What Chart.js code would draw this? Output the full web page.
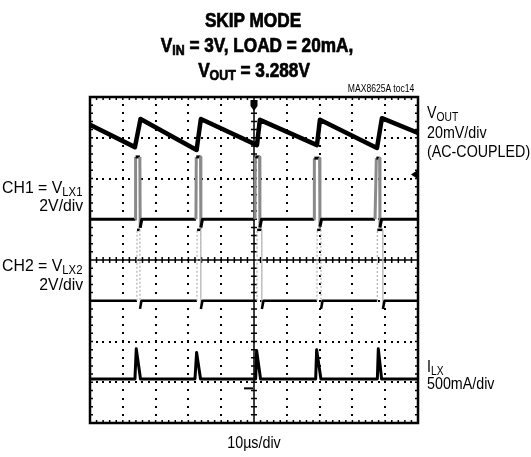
<!DOCTYPE html>
<html>
<head>
<meta charset="utf-8">
<script src="https://cdn.jsdelivr.net/npm/chart.js@4/dist/chart.umd.min.js"></script>
<style>
  body { margin: 0; background: #fff; }
  #wrap { position: relative; width: 531px; height: 457px; overflow: hidden;
          font-family: "Liberation Sans", Arial, sans-serif; color: #000; }
  #scope { position: absolute; left: 0; top: 0; }
  .t { position: absolute; white-space: nowrap; line-height: 1; z-index: 2; }
  .title { font-weight: bold; font-size: 20px; -webkit-text-stroke: 0.7px #000;
           transform: translateX(-50%) scaleX(0.86); transform-origin: center; }
  .lbl { font-size: 17px; transform: scaleX(0.84); transform-origin: left; }
  .left { text-align: right; transform: scaleX(0.93); transform-origin: right; }
  .mid { transform: translateX(-50%) scaleX(0.84); transform-origin: center; }
  .t sub { font-size: 0.72em; vertical-align: -0.22em; line-height: 0; }
</style>
</head>
<body>
<div id="wrap">
  <canvas id="scope" width="531" height="457"></canvas>

  <div class="t title" style="left:253px; top:10px;">SKIP MODE</div>
  <div class="t title" style="left:257px; top:35px;">V<sub>IN</sub> = 3V, LOAD = 20mA,</div>
  <div class="t title" style="left:254px; top:60px;">V<sub>OUT</sub> = 3.288V</div>
  <div class="t" style="right:117px; top:84px; font-size:10px; transform:scaleX(0.86); transform-origin:right;">MAX8625A toc14</div>

  <div class="t lbl left" style="right:448px; top:179px;">CH1 = V<sub>LX1</sub></div>
  <div class="t lbl left" style="right:448px; top:197px;">2V/div</div>
  <div class="t lbl left" style="right:448px; top:257px;">CH2 = V<sub>LX2</sub></div>
  <div class="t lbl left" style="right:448px; top:276px;">2V/div</div>

  <div class="t lbl" style="left:427px; top:104px;">V<sub>OUT</sub></div>
  <div class="t lbl" style="left:427px; top:124px;">20mV/div</div>
  <div class="t lbl" style="left:427px; top:143px;">(AC-COUPLED)</div>
  <div class="t lbl" style="left:427px; top:358px;">I<sub>LX</sub></div>
  <div class="t lbl" style="left:427px; top:375px;">500mA/div</div>

  <div class="t lbl mid" style="left:254px; top:434px;">10&micro;s/div</div>
</div>
<script>
// time axis in microseconds (10us/div), amplitude in screen divisions
let voutTime = [0, 13.7, 15.4, 32.5, 33.8, 50.9, 51.8, 69.2, 70.1, 87.5, 89.0, 100];
let voutDiv  = [3.32, 2.77, 3.46, 2.70, 3.46, 2.82, 3.44, 2.82, 3.44, 2.75, 3.48, 3.12];

let ch1Time = [0, 13.8, 13.9, 15.2, 15.3, 15.8,
               32.3, 32.4, 33.7, 33.8, 34.3,
               50.3, 50.4, 51.7, 51.8, 52.3,
               68.3, 68.4, 70.0, 70.1, 70.6,
               86.9, 87.3, 88.3, 88.4, 88.9, 100];
let ch1Div  = [1.0, 1.0, 2.53, 2.53, 0.79, 1.0,
               1.0, 2.53, 2.53, 0.80, 1.0,
               1.0, 2.53, 2.53, 0.80, 1.0,
               1.0, 2.50, 2.50, 0.82, 1.0,
               1.0, 2.50, 2.50, 0.80, 1.0, 1.0];

let ch2Time = [0, 14.3, 14.35, 15.2, 15.25, 15.7,
               32.6, 32.65, 33.75, 33.8, 34.3,
               50.9, 50.95, 52.35, 52.4, 52.9,
               69.2, 69.25, 70.4, 70.45, 70.9,
               87.5, 87.6, 89.2, 89.3, 89.8, 100];
let ch2Div  = [-1.0, -1.0, 0.74, 0.74, -1.2, -1.0,
               -1.0, 0.74, 0.74, -1.2, -1.0,
               -1.0, 0.74, 0.74, -1.2, -1.0,
               -1.0, 0.74, 0.74, -1.2, -1.0,
               -1.0, 0.74, 0.74, -1.2, -1.0, -1.0];

let ilxTime = [0, 13.7, 14.1, 15.4, 32.0, 32.5, 33.7, 50.5, 50.8, 52.0, 68.8, 69.1, 70.4, 87.6, 87.9, 88.9, 100];
let ilxDiv  = [-2.92, -2.92, -2.18, -2.92, -2.92, -2.27, -2.92, -2.92, -2.22, -2.92,
               -2.92, -2.20, -2.92, -2.92, -2.18, -2.92, -2.92];

function pts(xs, ys) {
  return xs.map(function(x, i) { return { x: x, y: ys[i] }; });
}

// fast edges show up faint on the scope screen
function steep(ctx) {
  let dx = ctx.p1.parsed.x - ctx.p0.parsed.x;
  let dy = Math.abs(ctx.p1.parsed.y - ctx.p0.parsed.y);
  return dy / Math.max(dx, 0.001) > 3;
}

// scope graticule: dotted divisions, ticked centre axes, heavy frame
let graticule = {
  id: 'graticule',
  beforeDatasetsDraw: function(chart) {
    let c = chart.ctx, xs = chart.scales.x, ys = chart.scales.y, a = chart.chartArea;
    c.save();
    c.fillStyle = '#000';
    for (let d = 1; d < 10; d++) {
      if (d == 5) continue;
      let px = xs.getPixelForValue(d * 10);
      for (let m = -4; m <= 4; m += 0.2) {
        c.fillRect(Math.round(px) - 1, Math.round(ys.getPixelForValue(m)) - 1, 2, 2);
      }
    }
    for (let d = -3; d <= 3; d++) {
      if (d == 0) continue;
      let py = ys.getPixelForValue(d);
      for (let m = 0; m <= 100; m += 2) {
        c.fillRect(Math.round(xs.getPixelForValue(m)) - 1, Math.round(py) - 1, 2, 2);
      }
    }
    let cx = xs.getPixelForValue(50), cy = ys.getPixelForValue(0);
    c.strokeStyle = '#000';
    c.lineWidth = 1.5;
    c.beginPath();
    c.moveTo(a.left, cy); c.lineTo(a.right, cy);
    c.moveTo(cx, a.top); c.lineTo(cx, a.bottom);
    for (let m = 0; m <= 100; m += 2) {
      let px = xs.getPixelForValue(m);
      c.moveTo(px, cy - 3); c.lineTo(px, cy + 3);
      c.moveTo(px, a.top); c.lineTo(px, a.top + 3);
      c.moveTo(px, a.bottom); c.lineTo(px, a.bottom - 3);
    }
    for (let m = -4; m <= 4; m += 0.2) {
      let py = ys.getPixelForValue(m);
      c.moveTo(cx - 3, py); c.lineTo(cx + 3, py);
      c.moveTo(a.left, py); c.lineTo(a.left + 3, py);
      c.moveTo(a.right, py); c.lineTo(a.right - 3, py);
    }
    c.stroke();
    c.restore();
  },
  afterDatasetsDraw: function(chart) {
    let c = chart.ctx, a = chart.chartArea, xs = chart.scales.x, ys = chart.scales.y;
    c.save();
    c.strokeStyle = '#000';
    c.lineWidth = 2.5;
    c.strokeRect(a.left, a.top, a.right - a.left, a.bottom - a.top);
    // trigger marker, ground marker and channel arrow
    let cx = xs.getPixelForValue(50);
    c.fillStyle = '#000';
    c.fillRect(cx - 3.5, a.top + 3, 7, 6);
    c.beginPath();
    c.moveTo(cx - 3.5, a.top + 9); c.lineTo(cx + 3.5, a.top + 9); c.lineTo(cx, a.top + 14);
    c.fill();
    c.lineWidth = 2;
    c.beginPath();
    c.moveTo(cx - 10, ys.getPixelForValue(-3.15)); c.lineTo(cx - 1, ys.getPixelForValue(-3.15));
    c.stroke();
    let ay = ys.getPixelForValue(2.1);
    c.beginPath();
    c.moveTo(a.right - 7, ay); c.lineTo(a.right - 1, ay - 4); c.lineTo(a.right - 1, ay + 4);
    c.fill();
    c.restore();
  }
};

let scopeChart = new Chart(document.getElementById('scope').getContext('2d'), {
  type: 'line',
  data: {
    datasets: [
      { label: 'VOUT', data: pts(voutTime, voutDiv), borderColor: '#000', borderWidth: 4.5 },
      { label: 'CH1 = VLX1', data: pts(ch1Time, ch1Div), borderColor: '#000', borderWidth: 3,
        segment: { borderColor: function(ctx) { return steep(ctx) ? '#8a8a8a' : undefined; } } },
      { label: 'CH2 = VLX2', data: pts(ch2Time, ch2Div), borderColor: '#000', borderWidth: 2.5,
        segment: {
          borderColor: function(ctx) { return steep(ctx) ? '#b0b0b0' : undefined; },
          borderDash: function(ctx) { return steep(ctx) ? [2, 2] : undefined; },
          borderWidth: function(ctx) { return steep(ctx) ? 1.2 : undefined; }
        } },
      { label: 'ILX', data: pts(ilxTime, ilxDiv), borderColor: '#000', borderWidth: 3 }
    ]
  },
  options: {
    responsive: false,
    animation: false,
    layout: { padding: { left: 90, top: 97, right: 113, bottom: 34 } },
    scales: {
      x: { type: 'linear', min: 0, max: 100, display: false },
      y: { type: 'linear', min: -4, max: 4, display: false }
    },
    elements: { point: { radius: 0 }, line: { tension: 0, borderJoinStyle: 'round' } },
    plugins: { legend: { display: false }, tooltip: { enabled: false } }
  },
  plugins: [graticule]
});
</script>
</body>
</html>
